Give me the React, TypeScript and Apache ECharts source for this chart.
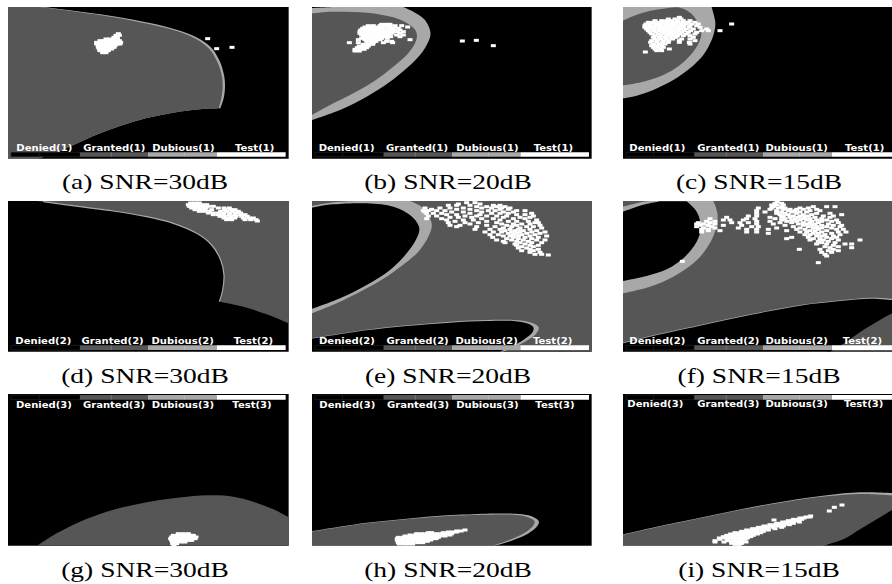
import React, { useEffect, useRef } from "react";
import * as echarts from "echarts";

type Row = [number, number[]];
type Pt = number[]; // [x, y] or [x, y, 1] for a sharp corner

const GRAY = "#565656";
const LIGHT = "#a8a8a8";

const captions = ["(a) SNR=30dB", "(b) SNR=20dB", "(c) SNR=15dB", "(d) SNR=30dB", "(e) SNR=20dB", "(f) SNR=15dB", "(g) SNR=30dB", "(h) SNR=20dB", "(i) SNR=15dB"];
const captionX = [145, 448, 759, 145, 448, 759, 145, 448, 759];
const captionY = [182, 182, 182, 376, 376, 376, 570, 570, 570];

const boundsX: Pt[] = [[24, 866], [36, 875], [69, 876]];
const boundsY: Pt[] = [[21, 476], [18, 470], [12, 467]];
const pageLeft = [8, 312, 623];
const pageTop = [7, 201, 394];

const legendNames = ["Denied", "Granted", "Dubious", "Test"];
const legendColors = ["#000000", GRAY, LIGHT, "#ffffff"];
const barEdges = [[33, 240, 444, 651, 857], [45, 251, 456, 661, 867], [78, 283, 489, 695, 876]];
const barDividers = [[117, 334, 553], [128, 346, 565], [160, 379, 598]];
const barY: Pt[] = [[457, 470], [451, 465], [15, 29]];
const labelX = [
  [133, 343, 550, 764], [140, 351, 562, 760], [172, 385, 590, 794],
  [130, 338, 548, 760], [141, 353, 560, 758], [172, 385, 590, 787],
  [132, 342, 549, 756], [142, 354, 562, 765], [166, 385, 590, 791],
];
const labelY = [443, 442, 442, 438, 437, 437, 43, 43, 40];

// ---- decision regions ----
const aLight: Pt[] = [[24,21,1],[130,21,1],[250,36],[350,50],[450,69],[530,89],[592,113],[634,143],[659,183],[672,225],[675,260],[671,295],[661,325,1],[600,328],[520,338],[440,354],[360,378],[280,408],[200,444],[115,476,1],[24,476,1]];
const aDark: Pt[] = [[24,21,1],[120,21,1],[250,38],[350,53],[450,73],[530,93],[588,117],[628,147],[652,186],[665,225],[668,260],[664,295],[656,325,1],[600,328],[520,338],[440,354],[360,378],[280,408],[200,444],[115,476,1],[24,476,1]];
const bLight: Pt[] = [[36,24,1],[100,21,1],[310,21,1],[345,38],[375,60],[391,95],[385,125],[360,165],[320,205],[270,245],[200,290],[120,330],[36,360,1]];
const bDark: Pt[] = [[36,40,1],[100,35],[200,38],[280,52],[330,75],[350,100],[345,130],[320,165],[280,200],[220,245],[150,285],[90,315],[36,345,1]];
const cLight: Pt[] = [[69,21,1],[335,21,1],[345,60],[345,85],[335,120],[310,165],[270,205],[220,240],[160,270],[110,287],[69,295,1]];
const cDark: Pt[] = [[69,62,1],[100,48],[140,35],[190,26],[240,23],[275,42],[298,75],[304,95],[300,120],[280,155],[240,195],[190,225],[130,245],[69,256,1]];
const dGray: Pt[] = [[110,18,1],[866,18,1],[866,385,1],[800,358],[730,335],[658,320,1],[668,285],[672,240],[662,195],[635,150],[590,115],[520,85],[440,65],[340,48],[240,35],[170,25]];
const dEdge: Pt[] = [[130,20,1],[240,35],[340,48],[440,65],[520,85],[590,115],[635,150],[662,195],[672,240],[668,285],[658,320,1]];
const eFull: Pt[] = [[36,18,1],[875,18,1],[875,470,1],[36,470,1]];
const eRing: Pt[] = [[36,33,1],[100,22],[170,18,1],[330,18,1],[370,40],[395,85],[385,125],[355,170],[315,205],[260,245],[190,285],[110,325],[36,355,1]];
const eHole: Pt[] = [[36,38,1],[100,28],[200,25],[280,35],[330,60],[357,95],[350,130],[320,175],[270,225],[200,270],[120,310],[36,342,1]];
const eLowRim: Pt[] = [[36,429,1],[100,419],[200,404],[320,391],[450,380],[560,375],[640,375],[690,382],[716,397],[705,420],[675,440],[640,458],[610,470,1],[36,470,1]];
const eLow: Pt[] = [[36,431,1],[100,421],[200,406],[320,393],[450,383],[560,378],[640,378],[680,385],[700,397],[695,415],[670,435],[640,452],[600,470,1],[36,470,1]];
const fFull: Pt[] = [[69,18,1],[876,18,1],[876,470,1],[69,470,1]];
const fRing: Pt[] = [[69,35,1],[130,20],[170,18,1],[340,18,1],[353,60],[345,110],[320,160],[280,205],[220,245],[150,275],[69,295,1]];
const fHole: Pt[] = [[69,50,1],[120,32],[180,19,1],[260,19,1],[290,50],[302,90],[295,130],[265,175],[215,215],[150,240],[69,258,1]];
const fLowRim: Pt[] = [[69,443,1],[150,423],[300,390],[450,358],[600,330],[720,316],[810,308],[876,311,1],[876,347,1],[840,368],[790,400],[740,436],[680,470,1],[69,470,1]];
const fLow: Pt[] = [[69,445,1],[150,425],[300,392],[450,360],[600,332],[720,318],[810,311],[876,315,1],[876,355,1],[840,375],[790,405],[740,440],[690,470,1],[69,470,1]];
const gGray: Pt[] = [[112,467,1],[170,430],[240,395],[320,365],[400,345],[480,330],[560,320],[640,316],[700,320],[760,335],[820,358],[866,382,1],[866,467,1]];
const hRim: Pt[] = [[36,423,1],[100,413],[200,398],[320,386],[440,376],[560,371],[640,371],[685,376],[716,393],[706,415],[675,436],[635,452],[585,467,1],[36,467,1]];
const hGray: Pt[] = [[36,425,1],[100,415],[200,400],[320,388],[440,378],[560,374],[640,374],[680,380],[703,393],[697,410],[668,432],[628,450],[578,467,1],[36,467,1]];
const iRim: Pt[] = [[69,433,1],[170,410],[300,383],[430,356],[560,333],[680,316],[780,307],[876,309,1],[876,352,1],[830,382],[780,412],[730,442],[672,467,1],[69,467,1]];
const iGray: Pt[] = [[69,435,1],[170,412],[300,385],[430,358],[560,335],[680,319],[780,312],[876,316,1],[876,360,1],[830,388],[780,418],[730,448],[668,467,1],[69,467,1]];

const regionLists: { fill: string; pts: Pt[] }[][] = [
  [{ fill: LIGHT, pts: aLight }, { fill: GRAY, pts: aDark }],
  [{ fill: LIGHT, pts: bLight }, { fill: GRAY, pts: bDark }],
  [{ fill: LIGHT, pts: cLight }, { fill: GRAY, pts: cDark }],
  [{ fill: GRAY, pts: dGray }],
  [{ fill: GRAY, pts: eFull }, { fill: LIGHT, pts: eRing }, { fill: "#000", pts: eHole }, { fill: LIGHT, pts: eLowRim }, { fill: "#000", pts: eLow }],
  [{ fill: GRAY, pts: fFull }, { fill: LIGHT, pts: fRing }, { fill: "#000", pts: fHole }, { fill: LIGHT, pts: fLowRim }, { fill: "#000", pts: fLow }],
  [{ fill: GRAY, pts: gGray }],
  [{ fill: LIGHT, pts: hRim }, { fill: GRAY, pts: hGray }],
  [{ fill: LIGHT, pts: iRim }, { fill: GRAY, pts: iGray }],
];
const edgeLists: Pt[][][] = [[], [], [], [dEdge], [], [], [], [], []];

// ---- test samples, as [y, x values] rows ----
const testA: Row[] = [[101,[355]],[106,[348,358]],[112,[342,352]],[117,[318,330,342,352]],[122,[300,312,325,338,350,358]],[127,[290,302,315,328,340,352,362]],[132,[290,302,315,328,340,352,360]],[137,[295,308,320,332,345]],[142,[295,308,320,332,342]],[147,[298,310,322,335]],[152,[300,312,325]],[158,[308,318]],[116,[623]],[146,[650]],[142,[696]]];
const testB: Row[] = [[123,[487]],[121,[529]],[137,[580]],[73,[245,258,270]],[77,[205,220,240,255,270,285,305]],[81,[195,210,225,240,255,270,285,323]],[85,[188,202,216,230,245,262,278,295]],[90,[182,196,210,224,238,252,268,282,300]],[95,[180,195,208,222,236,250,264,278,292,310]],[100,[180,193,207,220,234,248,262,275,300]],[105,[185,198,212,226,240,254,268,290,310]],[110,[190,204,218,232,245,258,272,300]],[115,[185,200,215,230,245,262]],[119,[175,195,210,225,240,330]],[124,[200,215,228,260,275]],[128,[148,175,205,220,250,278]],[133,[190,205,218]],[138,[178,192,205]],[143,[172,186,200]],[148,[165,180,192]],[153,[165,178]]];
const testC: Row[] = [[52,[238]],[57,[205,225,243]],[62,[165,185,200,215,232,250,270]],[67,[145,160,175,190,205,220,235,250,265,285]],[72,[138,152,168,182,198,212,226,242,258,275,295,395]],[77,[135,150,165,180,195,208,222,238,252,270,290]],[82,[135,148,162,178,192,206,220,235,250,268,300]],[87,[140,155,170,185,198,212,228,242,258,280,320]],[92,[145,162,178,192,206,220,236,252,272,305,325,360]],[97,[150,168,185,200,215,230,245,265,290]],[102,[155,175,192,208,222,238,258,285]],[107,[165,182,200,216,232,250,270]],[112,[160,178,195,212,228,280]],[117,[165,182,200,218,245,270]],[122,[155,172,190,206,238,285]],[127,[152,170,188,205,238,268]],[132,[160,178,195,270]],[137,[155,170,186]],[142,[160,175,190]],[147,[165,182,208]],[152,[170,185]],[156,[136]]];
const testD: Row[] = [[24,[572,585,598]],[29,[565,578,592,606,620]],[34,[568,582,596,610,625,640]],[39,[575,590,604,618,655,672,688]],[44,[585,600,615,635,675,692,705]],[49,[598,612,628,662,680,698,715]],[54,[625,640,655,672,690,708,722]],[59,[640,655,670,688,705,722,735]],[64,[660,675,692,708,725,742]],[69,[672,688,704,730,748,760]],[74,[680,695,735,752,768]],[78,[772]]];
const testE: Row[] = [[23,[500,525]],[27,[475,540]],[31,[445,470,510,580,600]],[35,[530,560,590,615]],[39,[375,420,450,490,545,575,605,630]],[43,[395,470,510,600,625]],[47,[370,385,410,435,530,565,585,650,675]],[51,[375,455,490,545,610,640]],[55,[380,400,425,510,575,600,625,695]],[59,[440,470,540,650,675]],[63,[385,410,495,530,560,590,620,700]],[67,[450,475,515,610,660,690]],[71,[380,425,545,580,640,675]],[75,[440,490,520,600,710]],[79,[465,560,625,650,685]],[83,[445,495,535,590,715,705]],[87,[510,605,640,665,690]],[91,[450,480,560,620,650,720]],[95,[470,530,585,635,680,700]],[99,[610,660,725]],[103,[525,570,600,630,655,690]],[107,[615,645,670,710]],[111,[555,580,605,635,660,695,735]],[115,[625,650,680,720]],[119,[570,595,640,665,705]],[123,[610,630,655,690,740]],[127,[578,640,675,715]],[131,[620,655,695]],[135,[590,635,670,710,735]],[139,[610,650,685]],[143,[615,660,695,725]],[147,[645,675]],[151,[650,690,715]],[155,[665,700]],[159,[655,680]],[163,[690,715]],[167,[665,700]],[172,[690,720]],[178,[705,725]],[180,[745]]];
const testF: Row[] = [[20,[532]],[25,[525,545]],[30,[515,530,550]],[35,[520,545,640,680,705]],[39,[475,515,535,555,600,625]],[43,[510,550,570,590,610,650]],[47,[470,530,565,585,630,660]],[51,[495,545,575,600,620]],[55,[470,530,555,590,650,690]],[59,[540,565,610,635,725]],[63,[445,470,550,580,600,625,670,700]],[67,[380,510,545,570,595,615,645,690]],[71,[330,440,465,525,555,585,610,630,665]],[75,[370,390,430,545,575,600,620,650,680,710]],[79,[320,345,470,510,560,590,635,665,695]],[83,[295,330,395,420,445,540,575,610,630,655,715]],[87,[290,310,345,470,520,595,620,645,685]],[91,[300,325,370,425,555,610,635,665,700,725]],[95,[290,335,455,475,580,625,650,680,720]],[99,[310,345,415,530,600,640,665,695]],[103,[305,325,440,470,505,590,615,655,710,730]],[107,[325,360,560,630,645,680]],[111,[305,440,470,600,620,665,715,738]],[115,[505,640,655,695]],[119,[615,630,675,720]],[123,[650,665,700]],[127,[575,625,680,710]],[131,[560,640,660,695]],[135,[630,670,715,780]],[139,[655,685]],[143,[665,705]],[147,[650,680,735,755]],[151,[700]],[155,[675,715]],[158,[690,755]],[163,[598,660,700]],[167,[685,715]],[172,[665,695]],[178,[675]],[183,[680]],[199,[247]],[203,[655]]];
const testG: Row[] = [[431,[535,550,565]],[436,[520,532,545,558,570,580]],[441,[515,528,540,552,565,578,588]],[446,[512,525,538,550,562,575,585]],[451,[515,528,540,552,565,575]],[456,[518,530,542,555]],[461,[518,530]],[465,[522]]];
const testH: Row[] = [[420,[495]],[423,[470,483]],[426,[445,458,470]],[428,[385,395,430]],[431,[350,365,380,395,410,425,440,455]],[435,[330,345,360,375,390,405,420,435,450]],[438,[315,330,345,360,375,390,405,420,435]],[442,[295,310,325,340,355,370,385,400,415]],[446,[292,305,320,335,350,365,380,395,408]],[450,[292,305,320,335,350,365,380,392]],[454,[295,310,325,340,355,370,382]],[458,[295,310,325,340,355,368]],[462,[298,312,325,338]]];
const testI: Row[] = [[345,[726]],[352,[703]],[363,[688]],[378,[632]],[381,[618,630]],[384,[600,612]],[388,[580,595,605]],[390,[522]],[392,[565,578,590]],[396,[548,560,572,598]],[400,[530,545,558,580]],[404,[510,525,538,552,568]],[408,[492,505,520,535,550]],[412,[475,488,502,518,545]],[416,[458,472,486,500,525]],[420,[440,455,470,485,505]],[424,[425,440,455,470,490]],[428,[405,420,435,450,468,482]],[432,[392,408,425,440,455,472]],[436,[380,395,412,428,445,460]],[440,[370,385,400,418,435,452]],[444,[358,375,392,408,425,442]],[448,[360,382,400,418,435]],[452,[345,385,405,425]],[456,[345,372,395,415,438]],[460,[395,410,425]],[463,[405,418]]];
const testLists = [testA, testB, testC, testD, testE, testF, testG, testH, testI];

const FONT = 'bold 8.6px "DejaVu Sans"';

echarts.graphic.registerShape(
  "curveRegion",
  echarts.graphic.extendShape({
    shape: { pts: [] as number[][], closed: true },
    buildPath(ctx: any, shape: any) {
      const p: number[][] = shape.pts;
      const n = p.length;
      if (!n) return;
      const count = shape.closed ? n : n - 1;
      const at = (i: number) => (shape.closed ? p[(i + n) % n] : p[Math.max(0, Math.min(n - 1, i))]);
      ctx.moveTo(p[0][0], p[0][1]);
      for (let i = 0; i < count; i++) {
        const p0 = at(i - 1), p1 = at(i), p2 = at(i + 1), p3 = at(i + 2);
        const c1 = p1[2] ? [p1[0], p1[1]] : [p1[0] + (p2[0] - p0[0]) / 6, p1[1] + (p2[1] - p0[1]) / 6];
        const c2 = p2[2] ? [p2[0], p2[1]] : [p2[0] - (p3[0] - p1[0]) / 6, p2[1] - (p3[1] - p1[1]) / 6];
        ctx.bezierCurveTo(c1[0], c1[1], c2[0], c2[1], p2[0], p2[1]);
      }
      if (shape.closed) ctx.closePath();
    },
  }) as any
);

export default function App() {
  const ref = useRef<HTMLDivElement>(null);
  useEffect(() => {
    const chart = echarts.init(ref.current!, undefined, { renderer: "svg" });
    const grids: any[] = [], xAxis: any[] = [], yAxis: any[] = [], series: any[] = [];
    for (let p = 0; p < 9; p++) {
      const col = p % 3, row = Math.floor(p / 3);
      const [x0, x1] = boundsX[col], [y0, y1] = boundsY[row];
      grids.push({
        left: pageLeft[col], top: pageTop[row], width: (x1 - x0) / 3, height: (y1 - y0) / 3,
        show: true, backgroundColor: "#000", borderWidth: 0,
      });
      xAxis.push({ type: "value", gridIndex: p, min: x0, max: x1, show: false });
      yAxis.push({ type: "value", gridIndex: p, min: y0, max: y1, inverse: true, show: false });

      const regions = regionLists[p];
      const edges = edgeLists[p];
      const toPx = (api: any, q: Pt) => {
        const c = api.coord([q[0], q[1]]);
        return [c[0], c[1], q[2] || 0];
      };
      series.push({
        type: "custom", xAxisIndex: p, yAxisIndex: p, z: 1, clip: true,
        data: regions.map((_, i) => [i]),
        renderItem: (_: any, api: any) => {
          const r = regions[api.value(0)];
          return { type: "curveRegion", shape: { pts: r.pts.map((q) => toPx(api, q)), closed: true }, style: { fill: r.fill } };
        },
      });
      if (edges.length) {
        series.push({
          type: "custom", xAxisIndex: p, yAxisIndex: p, z: 2, clip: true,
          data: edges.map((_, i) => [i]),
          renderItem: (_: any, api: any) => ({
            type: "curveRegion", shape: { pts: edges[api.value(0)].map((q) => toPx(api, q)), closed: false },
            style: { stroke: LIGHT, lineWidth: 1.2, fill: "none" },
          }),
        });
      }
      series.push({
        type: "scatter", xAxisIndex: p, yAxisIndex: p, z: 3, symbol: "rect", symbolSize: [5, 3],
        itemStyle: { color: "#fff", opacity: 1 }, silent: true,
        data: testLists[p].flatMap(([y, xs]) => xs.map((x) => [x, y])),
      });

      const cls = row + 1;
      const edgesX = barEdges[col], [by0, by1] = barY[row];
      series.push({
        type: "custom", xAxisIndex: p, yAxisIndex: p, z: 4,
        data: legendNames.map((_, i) => [i]),
        renderItem: (_: any, api: any) => {
          const i = api.value(0);
          const a = api.coord([edgesX[i], by0]), b = api.coord([edgesX[i + 1], by1]);
          const children: any[] = [{
            type: "rect", shape: { x: a[0], y: a[1], width: b[0] - a[0], height: b[1] - a[1] },
            style: { fill: legendColors[i], stroke: i === 0 ? "#2a2a2a" : "none", lineWidth: 0.6 },
          }];
          if (i < 3) {
            const d = api.coord([barDividers[col][i], by0]);
            children.push({
              type: "line", shape: { x1: d[0], y1: a[1], x2: d[0], y2: b[1] },
              style: { stroke: i === 0 ? "#2a2a2a" : i === 1 ? "#8a8a8a" : "#c4c4c4", lineWidth: 0.6 },
            });
          }
          const t = api.coord([labelX[p][i], labelY[p]]);
          children.push({
            type: "text", x: t[0], y: t[1], scaleX: 1.17,
            style: { text: `${legendNames[i]}(${cls})`, x: 0, y: 0, align: "center", verticalAlign: "middle", fill: "#fff", font: FONT },
          });
          return { type: "group", children };
        },
      });
    }
    chart.setOption({
      animation: false,
      grid: grids, xAxis, yAxis, series,
      graphic: captions.map((text, i) => ({
        type: "text", x: captionX[i], y: captionY[i], scaleX: 1.28,
        style: { text, x: 0, y: 0, align: "center", verticalAlign: "middle", fill: "#000", font: '21.5px "Liberation Serif"' },
      })),
    });
    return () => chart.dispose();
  }, []);
  return <div ref={ref} style={{ position: "absolute", left: 0, top: 0, width: 892, height: 584 }} />;
}
